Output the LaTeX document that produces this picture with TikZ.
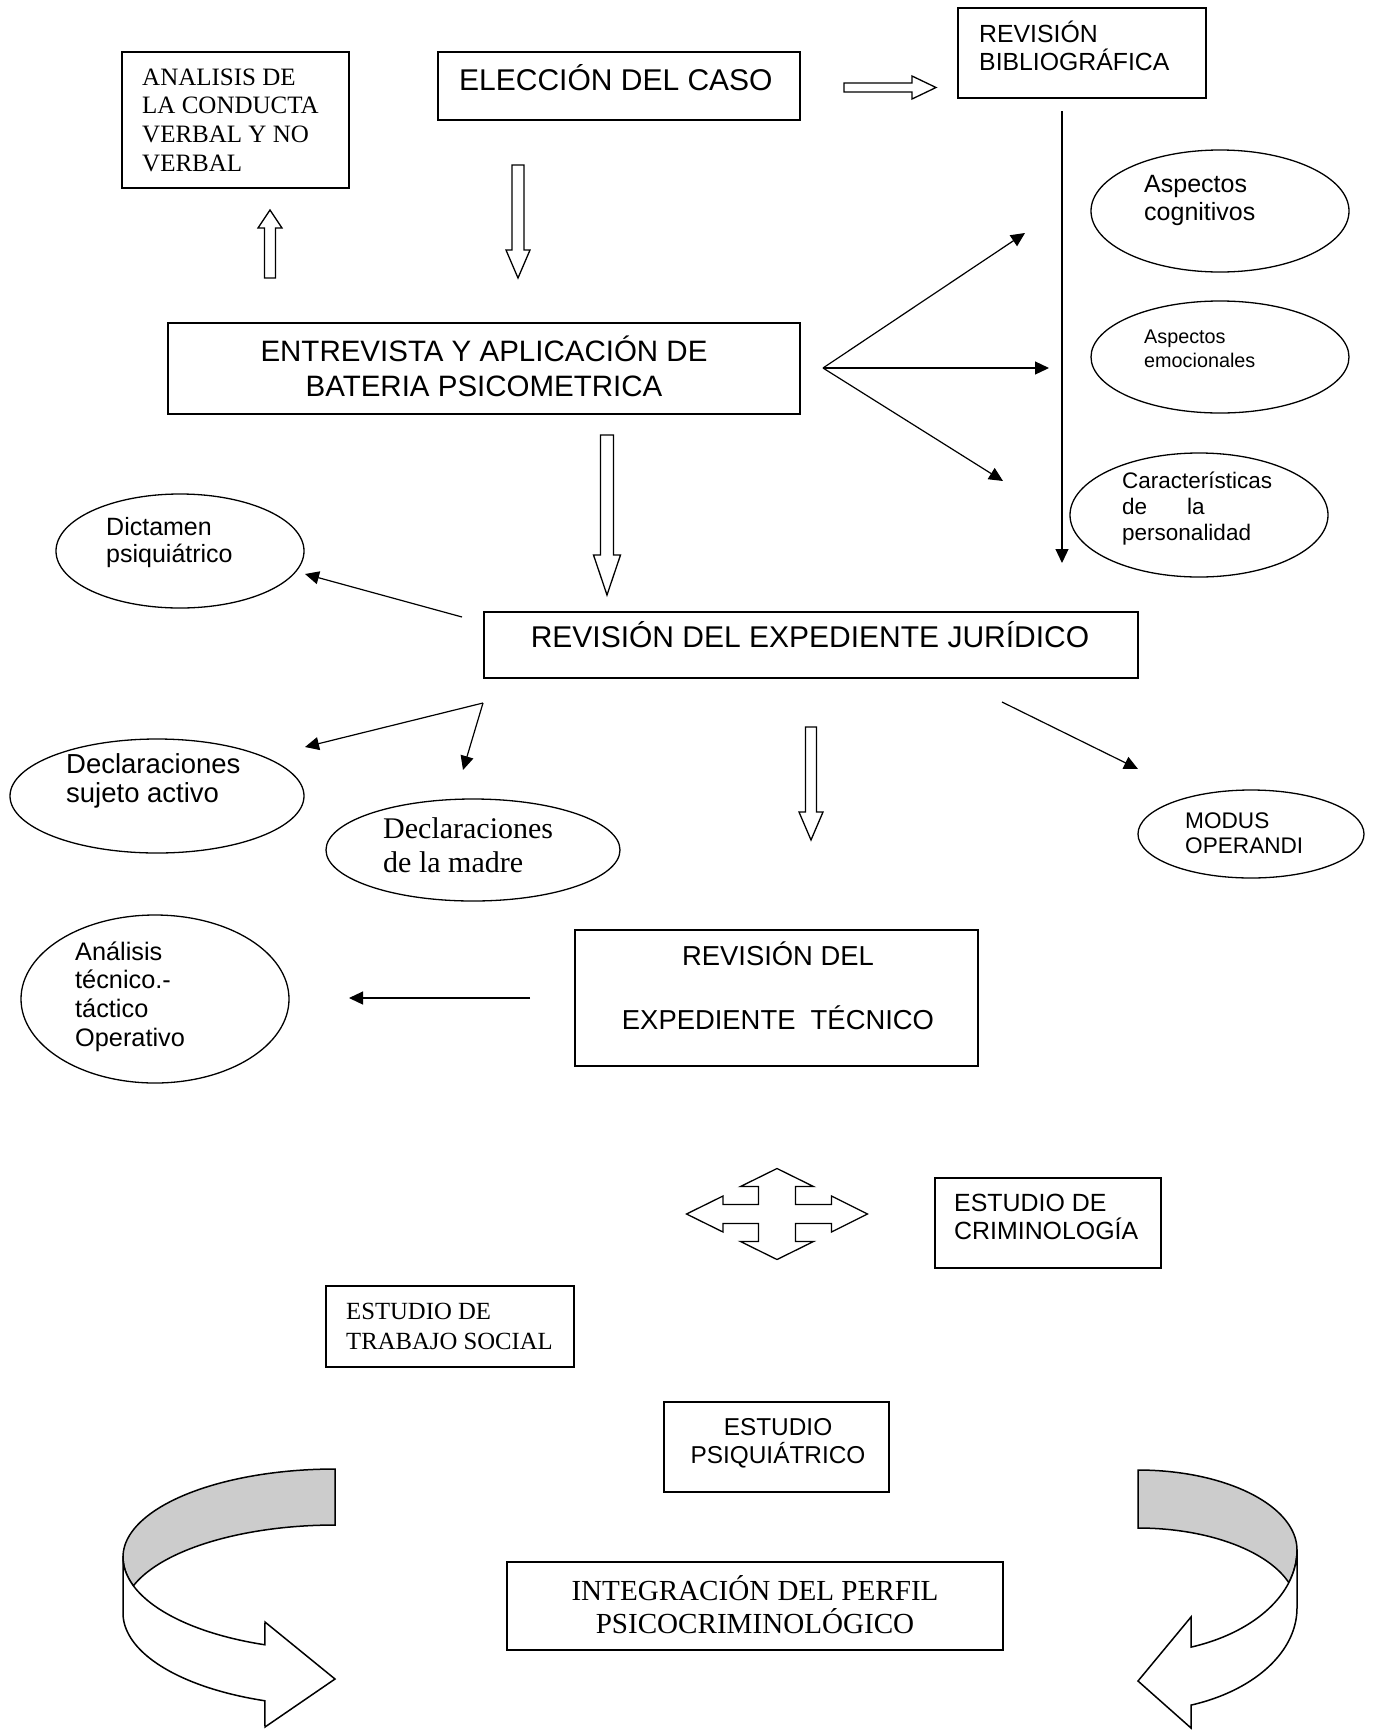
\documentclass[tikz,border=0pt]{standalone}
\usepackage{fontspec}
\setmainfont{Liberation Serif}
\setsansfont{Liberation Sans}
\usetikzlibrary{arrows.meta,shapes.geometric}
\newcommand{\LinesL}[1]{\vtop{\lineskiplimit=-50pt\halign{##\hfil\cr#1\crcr}}}
\newcommand{\LinesC}[1]{\vtop{\lineskiplimit=-50pt\halign{\hfil##\hfil\cr#1\crcr}}}
\newcommand{\fs}[2]{\fontsize{#1}{#2}\selectfont}
\begin{document}
\begin{tikzpicture}[x=1pt,y=-1pt,line join=miter,
  box/.style={draw,line width=1.5pt,rectangle,inner sep=0pt},
  ell/.style={draw,line width=1.3pt,ellipse,inner sep=0pt},
  lt/.style={inner sep=0pt,anchor=base west},
  ct/.style={inner sep=0pt,anchor=base},
  conn/.style={line width=1.2pt,-{Triangle[length=14pt,width=13pt]}},
  blk/.style={draw,line width=1.3pt,fill=white},
  band/.style={draw,line width=1.5pt}]
\useasboundingbox[fill=white] (0,0) rectangle (1375,1730);

% ---------- boxes ----------
\node[box,minimum width=227pt,minimum height=136pt] (anal) at (235.5,120) {};
\node[lt,font=\rmfamily\fs{25}{28.7}] (anal-t) at (142,85) {\LinesL{ANALISIS DE\cr LA CONDUCTA\cr VERBAL Y NO\cr VERBAL}};

\node[box,minimum width=362pt,minimum height=68pt] (elec) at (619,86) {};
\node[lt,font=\sffamily\fs{30}{35}] (elec-t) at (459,90) {ELECCIÓN DEL CASO};

\node[box,minimum width=248pt,minimum height=90pt] (bib) at (1082,53) {};
\node[lt,font=\sffamily\fs{24.8}{28}] (bib-t) at (979,42) {\LinesL{REVISIÓN\cr BIBLIOGRÁFICA}};

\node[box,minimum width=632pt,minimum height=91pt] (ent) at (484,368.5) {};
\node[ct,font=\sffamily\fs{29.5}{35}] (ent-t) at (484,361) {\LinesC{ENTREVISTA Y APLICACIÓN DE\cr BATERIA PSICOMETRICA}};

\node[box,minimum width=654pt,minimum height=66pt] (jur) at (811,645) {};
\node[ct,font=\sffamily\fs{30}{35}] (jur-t) at (810,647) {REVISIÓN DEL EXPEDIENTE JURÍDICO};

\node[box,minimum width=403pt,minimum height=136pt] (tec) at (776.5,998) {};
\node[ct,font=\sffamily\fs{27.4}{64}] (tec-t) at (778,965) {\LinesC{REVISIÓN DEL\cr EXPEDIENTE\ \ TÉCNICO}};

\node[box,minimum width=226pt,minimum height=90pt] (crim) at (1048,1223) {};
\node[lt,font=\sffamily\fs{24.9}{28}] (crim-t) at (954,1211) {\LinesL{ESTUDIO DE\cr CRIMINOLOGÍA}};

\node[box,minimum width=248pt,minimum height=81pt] (trab) at (450,1326.5) {};
\node[lt,font=\rmfamily\fs{24.7}{30}] (trab-t) at (346,1319) {\LinesL{ESTUDIO DE\cr TRABAJO SOCIAL}};

\node[box,minimum width=225pt,minimum height=90pt] (psiq) at (776.5,1447) {};
\node[ct,font=\sffamily\fs{24.4}{28.5}] (psiq-t) at (778,1435) {\LinesC{ESTUDIO\cr PSIQUIÁTRICO}};

\node[box,minimum width=496pt,minimum height=88pt] (integ) at (755,1606) {};
\node[ct,font=\rmfamily\fs{29.1}{33}] (integ-t) at (755,1600) {\LinesC{INTEGRACIÓN DEL PERFIL\cr PSICOCRIMINOLÓGICO}};

% ---------- ellipses ----------
\node[ell,minimum width=258pt,minimum height=122pt] (cog) at (1220,211) {};
\node[lt,font=\sffamily\fs{25}{28}] (cog-t) at (1144,192) {\LinesL{Aspectos\cr cognitivos}};

\node[ell,minimum width=258pt,minimum height=112pt] (emo) at (1220,357) {};
\node[lt,font=\sffamily\fs{19.8}{24}] (emo-t) at (1144,343) {\LinesL{Aspectos\cr emocionales}};

\node[ell,minimum width=258pt,minimum height=124pt] (car) at (1199,515) {};
\node[lt,font=\sffamily\fs{22.5}{26}] (car-t) at (1122,488) {\LinesL{Características\cr de\hskip40pt la\cr personalidad}};

\node[ell,minimum width=248pt,minimum height=114pt] (dict) at (180,551) {};
\node[lt,font=\sffamily\fs{25}{27}] (dict-t) at (106,535) {\LinesL{Dictamen\cr psiquiátrico}};

\node[ell,minimum width=294pt,minimum height=114pt] (suj) at (157,796) {};
\node[lt,font=\sffamily\fs{27.5}{29.5}] (suj-t) at (66,773) {\LinesL{Declaraciones\cr sujeto activo}};

\node[ell,minimum width=294pt,minimum height=102pt] (mad) at (473,850) {};
\node[lt,font=\rmfamily\fs{30}{34}] (mad-t) at (383,838) {\LinesL{Declaraciones\cr de la madre}};

\node[ell,minimum width=226pt,minimum height=88pt] (mod) at (1251,834) {};
\node[lt,font=\sffamily\fs{22.6}{25}] (mod-t) at (1185,828) {\LinesL{MODUS\cr OPERANDI}};

\node[ell,minimum width=268pt,minimum height=168pt] (ana) at (155,999) {};
\node[lt,font=\sffamily\fs{25.3}{28.7}] (ana-t) at (75,960) {\LinesL{Análisis\cr técnico.-\cr táctico\cr Operativo}};

% ---------- connector end points ----------
\coordinate (ent-o) at (823,368);
\coordinate (cog-i) at (1025,233);
\coordinate (emo-i) at (1049,368);
\coordinate (car-i) at (1003,481);
\coordinate (bib-o) at (1062,111);
\coordinate (bib-e) at (1062,563);
\coordinate (jur-l) at (462,617);
\coordinate (dict-i) at (305,574);
\coordinate (jur-b) at (483,703);
\coordinate (suj-i) at (305,747);
\coordinate (mad-i) at (463,770);
\coordinate (jur-r) at (1002,702);
\coordinate (mod-i) at (1138,769);
\coordinate (tec-o) at (530,998);
\coordinate (ana-i) at (349,998);

\draw[conn] (ent-o) -- (cog-i);
\draw[conn] (ent-o) -- (emo-i);
\draw[conn] (ent-o) -- (car-i);
\draw[conn] (bib-o) -- (bib-e);
\draw[conn] (jur-l) -- (dict-i);
\draw[conn] (jur-b) -- (suj-i);
\draw[conn] (jur-b) -- (mad-i);
\draw[conn] (jur-r) -- (mod-i);
\draw[conn] (tec-o) -- (ana-i);

% ---------- block arrows ----------
\draw[blk] (844,83) -- (912,83) -- (912,76) -- (936,87.5) -- (912,99) -- (912,92) -- (844,92) -- cycle;
\draw[blk] (264.5,278) -- (264.5,228) -- (258,228) -- (270,210) -- (282,228) -- (275.5,228) -- (275.5,278) -- cycle;
\draw[blk] (512,165) -- (524,165) -- (524,250) -- (530,250) -- (518,278) -- (506,250) -- (512,250) -- cycle;
\draw[blk] (600.5,435) -- (613.5,435) -- (613.5,555) -- (620.5,555) -- (607,595) -- (593.5,555) -- (600.5,555) -- cycle;
\draw[blk] (805.5,727) -- (816.5,727) -- (816.5,812) -- (823,812) -- (811,840) -- (799,812) -- (805.5,812) -- cycle;

% ---------- four-way arrow ----------
\begin{scope}[shift={(777,1214)}]
\draw[blk] (-90.5,0) -- (-54,-18) -- (-54,-9.5) -- (-18.5,-9.5) -- (-18.5,-27.5) -- (-36.5,-27.5) -- (0,-45.5) -- (36.5,-27.5) -- (18.5,-27.5) -- (18.5,-9.5) -- (54.5,-9.5) -- (54.5,-18) -- (90.5,0) -- (54.5,18) -- (54.5,9.5) -- (18.5,9.5) -- (18.5,27.5) -- (36.5,27.5) -- (0,45.5) -- (-36.5,27.5) -- (-18.5,27.5) -- (-18.5,9.5) -- (-54,9.5) -- (-54,18) -- cycle;
\end{scope}

% ---------- curved ribbon arrows ----------
% left (back arcs ry=88, front arcs ry=93)
\filldraw[band,fill=black!20]
  plot[domain=270:180,samples=50,variable=\t] ({335+212*cos(\t)},{1557+88*sin(\t)})
  -- plot[domain=180:162,samples=12,variable=\t] ({335+212*cos(\t)},{1557+93*sin(\t)})
  -- plot[domain=198:270,samples=50,variable=\t] ({335+212*cos(\t)},{1613+88*sin(\t)})
  -- cycle;
\filldraw[band,fill=white]
  plot[domain=162:109.3,samples=50,variable=\t] ({335+212*cos(\t)},{1557+93*sin(\t)})
  -- (265,1622) -- (335,1679) -- (265,1727)
  -- plot[domain=109.3:180,samples=50,variable=\t] ({335+212*cos(\t)},{1613+93*sin(\t)})
  -- plot[domain=180:162,samples=12,variable=\t] ({335+212*cos(\t)},{1557+93*sin(\t)})
  -- cycle;
% right (back arcs ry=80, front arcs ry=103)
\filldraw[band,fill=black!20]
  plot[domain=270:360,samples=50,variable=\t] ({1138+159*cos(\t)},{1550+80*sin(\t)})
  -- plot[domain=0:18.48,samples=12,variable=\t] ({1138+159*cos(\t)},{1550+103*sin(\t)})
  -- plot[domain=341.52:270,samples=50,variable=\t] ({1138+159*cos(\t)},{1608+80*sin(\t)})
  -- cycle;
\filldraw[band,fill=white]
  plot[domain=18.48:70.53,samples=50,variable=\t] ({1138+159*cos(\t)},{1550+103*sin(\t)})
  -- (1191,1617) -- (1138,1681) -- (1191,1728)
  -- plot[domain=70.53:0,samples=50,variable=\t] ({1138+159*cos(\t)},{1608+103*sin(\t)})
  -- plot[domain=0:18.48,samples=12,variable=\t] ({1138+159*cos(\t)},{1550+103*sin(\t)})
  -- cycle;
\end{tikzpicture}
\end{document}
